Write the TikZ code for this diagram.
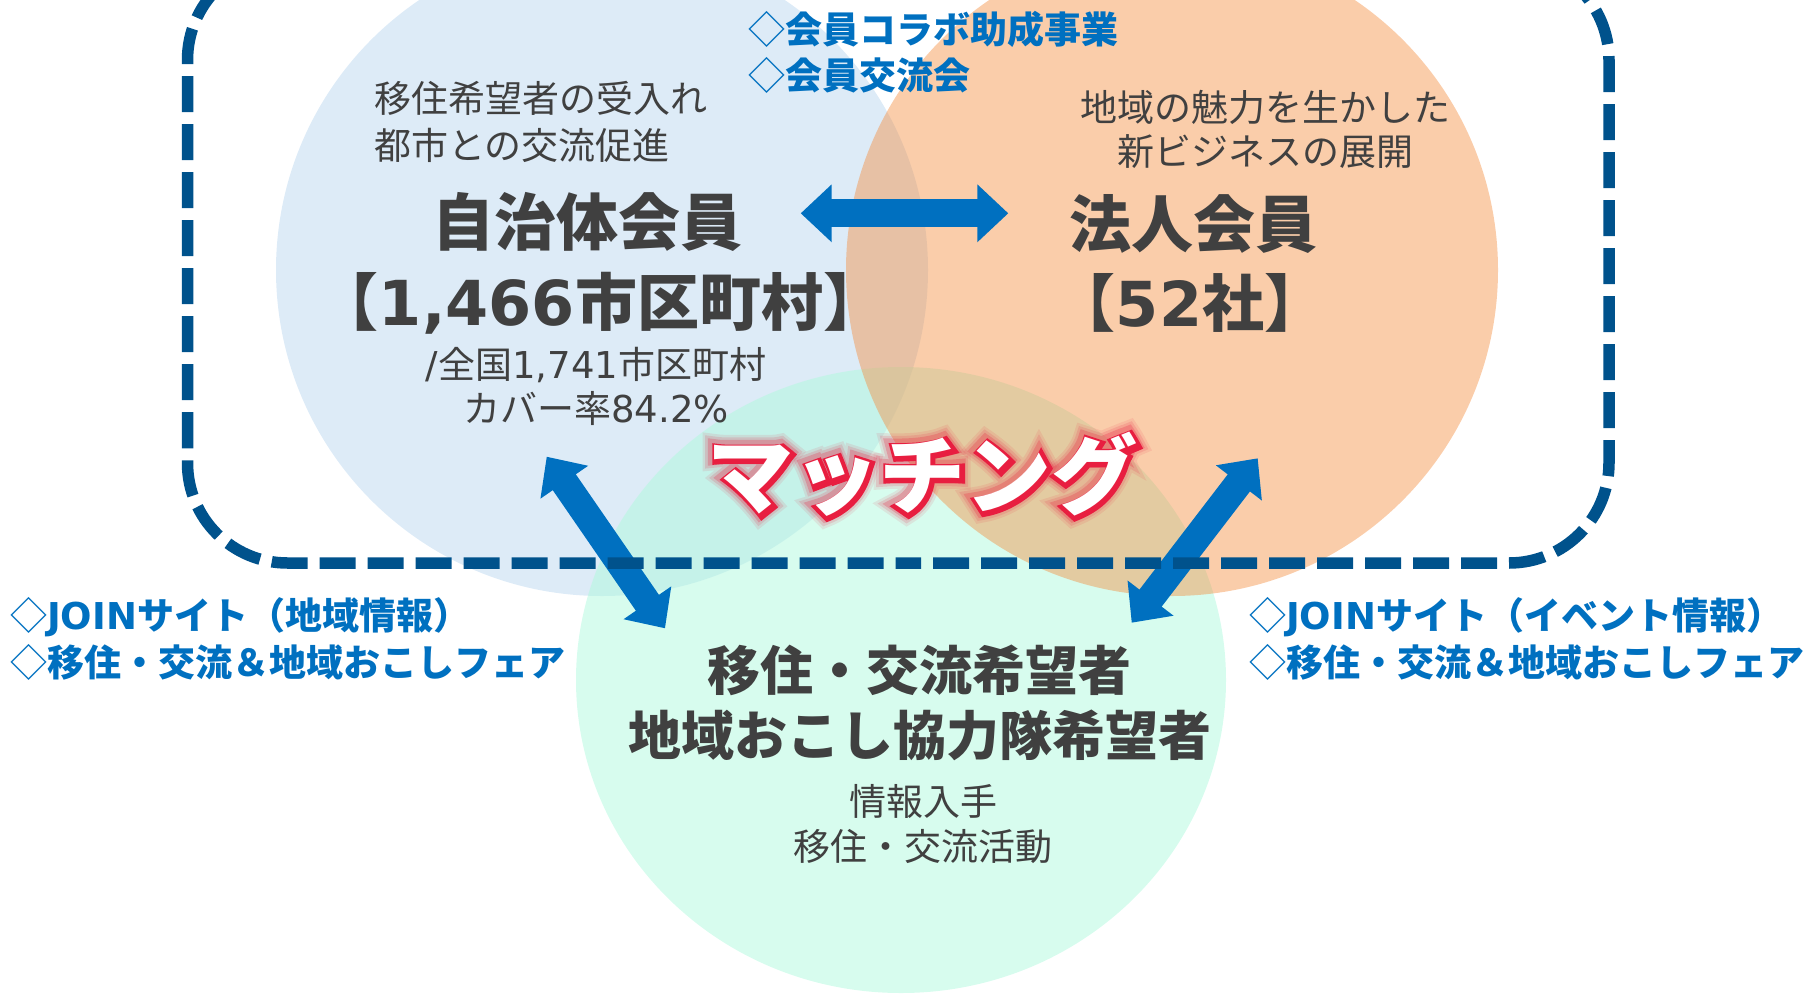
\documentclass[tikz,border=0pt]{standalone}
\usepackage{fontspec}
\setmainfont{Noto Sans CJK JP}
\newfontfamily\lat{DejaVu Sans}
\newfontface\mglowA{Noto Sans CJK JP Bold}[FakeBold=28]
\newfontface\mglowB{Noto Sans CJK JP Bold}[FakeBold=22]
\newfontface\mglowC{Noto Sans CJK JP Bold}[FakeBold=16]
\newfontface\mline{Noto Sans CJK JP Bold}[FakeBold=10]
\usetikzlibrary{arrows.meta}
\definecolor{cblue}{RGB}{221,235,247}
\definecolor{cgreen}{RGB}{175,249,221}
\definecolor{corange}{RGB}{244,144,67}
\definecolor{navy}{RGB}{0,82,140}
\definecolor{arrowblue}{RGB}{0,112,192}
\definecolor{txtgray}{RGB}{64,64,64}
\definecolor{matchred}{RGB}{232,30,64}
\newcommand{\matchtext}{マッチング}
\begin{document}
\begin{tikzpicture}[x=1pt,y=-1pt,
  lbl/.style={inner sep=0pt, text=txtgray, font=\fontsize{37pt}{46pt}\selectfont},
  ttl/.style={inner sep=0pt, text=txtgray, font=\fontsize{62pt}{74pt}\selectfont\bfseries},
  ptl/.style={inner sep=0pt, text=txtgray, font=\fontsize{53pt}{62pt}\selectfont\bfseries},
  blu/.style={inner sep=0pt, text=arrowblue, anchor=west, font=\fontsize{37pt}{46pt}\selectfont\bfseries},
  dblarrow/.style={line width=28pt, draw=arrowblue, {Triangle[length=31pt,width=56pt]}-{Triangle[length=31pt,width=56pt]}},
  msize/.style={inner sep=0pt, font=\fontsize{86pt}{96pt}\selectfont},
]
\useasboundingbox (0,0) rectangle (1816,994);
% circles
\fill[cblue] (602,270) circle[radius=326pt];
\fill[cgreen, fill opacity=0.5] (901,680) ellipse[x radius=325pt, y radius=313pt];
\fill[corange, fill opacity=0.45] (1172,270) circle[radius=326pt];
% arrow end points
\coordinate (h1) at (800.7,213.3);
\coordinate (h2) at (1008.3,213.3);
\coordinate (l1) at (546.7,456.7);
\coordinate (l2) at (665,628.3);
\coordinate (r1) at (1257.7,458.3);
\coordinate (r2) at (1131.7,622.7);
\draw[dblarrow] (h1) -- (h2);
\draw[dblarrow] (l1) -- (l2);
\draw[dblarrow] (r1) -- (r2);
% dashed frame
\draw[navy, line width=11.5pt, dash pattern=on 36pt off 12pt, dash phase=15pt, rounded corners=100pt]
  (800,563) -- (1609,563) -- (1609,-40) -- (187.5,-40) -- (187.5,563) -- cycle;
% top labels
\node[blu] (collab1) at (748,29) {{\mdseries ◇}会員コラボ助成事業};
\node[blu] (collab2) at (748,75) {{\mdseries ◇}会員交流会};
% municipality
\node[lbl, anchor=west] (jt1) at (374,98) {移住希望者の受入れ};
\node[lbl, anchor=west] (jt2) at (374,145) {都市との交流促進};
\node[ttl] (jtitle) at (587,222) {自治体会員};
\node[ttl] (jcount) at (601,303) {【{\lat 1,466}市区町村】};
\node[lbl] (jsub1) at (596,365) {{\lat /}全国{\lat 1,741}市区町村};
\node[lbl] (jsub2) at (596,408) {カバー率{\lat 84.2\%}};
% corporate
\node[lbl] (ct1) at (1265,107) {地域の魅力を生かした};
\node[lbl] (ct2) at (1265,152) {新ビジネスの展開};
\node[ttl] (ctitle) at (1193,224) {法人会員};
\node[ttl] (ccount) at (1190,303) {【{\lat 52}社】};
% people
\node[ptl] (pt1) at (919,670) {移住・交流希望者};
\node[ptl] (pt2) at (920,735) {地域おこし協力隊希望者};
\node[lbl] (ps1) at (923,801) {情報入手};
\node[lbl] (ps2) at (923,846) {移住・交流活動};
% side labels
\node[blu] (jl1) at (10,617) {{\mdseries ◇}{\lat JOIN}サイト（地域情報）};
\node[blu] (jl2) at (10,662) {{\mdseries ◇}移住・交流＆地域おこしフェア};
\node[blu] (jr1) at (1249,617) {{\mdseries ◇}{\lat JOIN}サイト（イベント情報）};
\node[blu] (jr2) at (1249,662) {{\mdseries ◇}移住・交流＆地域おこしフェア};
% matching
\node[msize, text=matchred, opacity=0.10] (mglow1) at (922,474) {\mglowA\matchtext};
\node[msize, text=matchred, opacity=0.15] (mglow2) at (922,474) {\mglowB\matchtext};
\node[msize, text=matchred, opacity=0.25] (mglow3) at (922,474) {\mglowC\matchtext};
\node[msize, text=matchred] (mline) at (924,476) {\mline\matchtext};
\node[msize, text=white, font=\fontsize{86pt}{96pt}\selectfont\bfseries] (match) at (922,474) {\matchtext};
\end{tikzpicture}
\end{document}
